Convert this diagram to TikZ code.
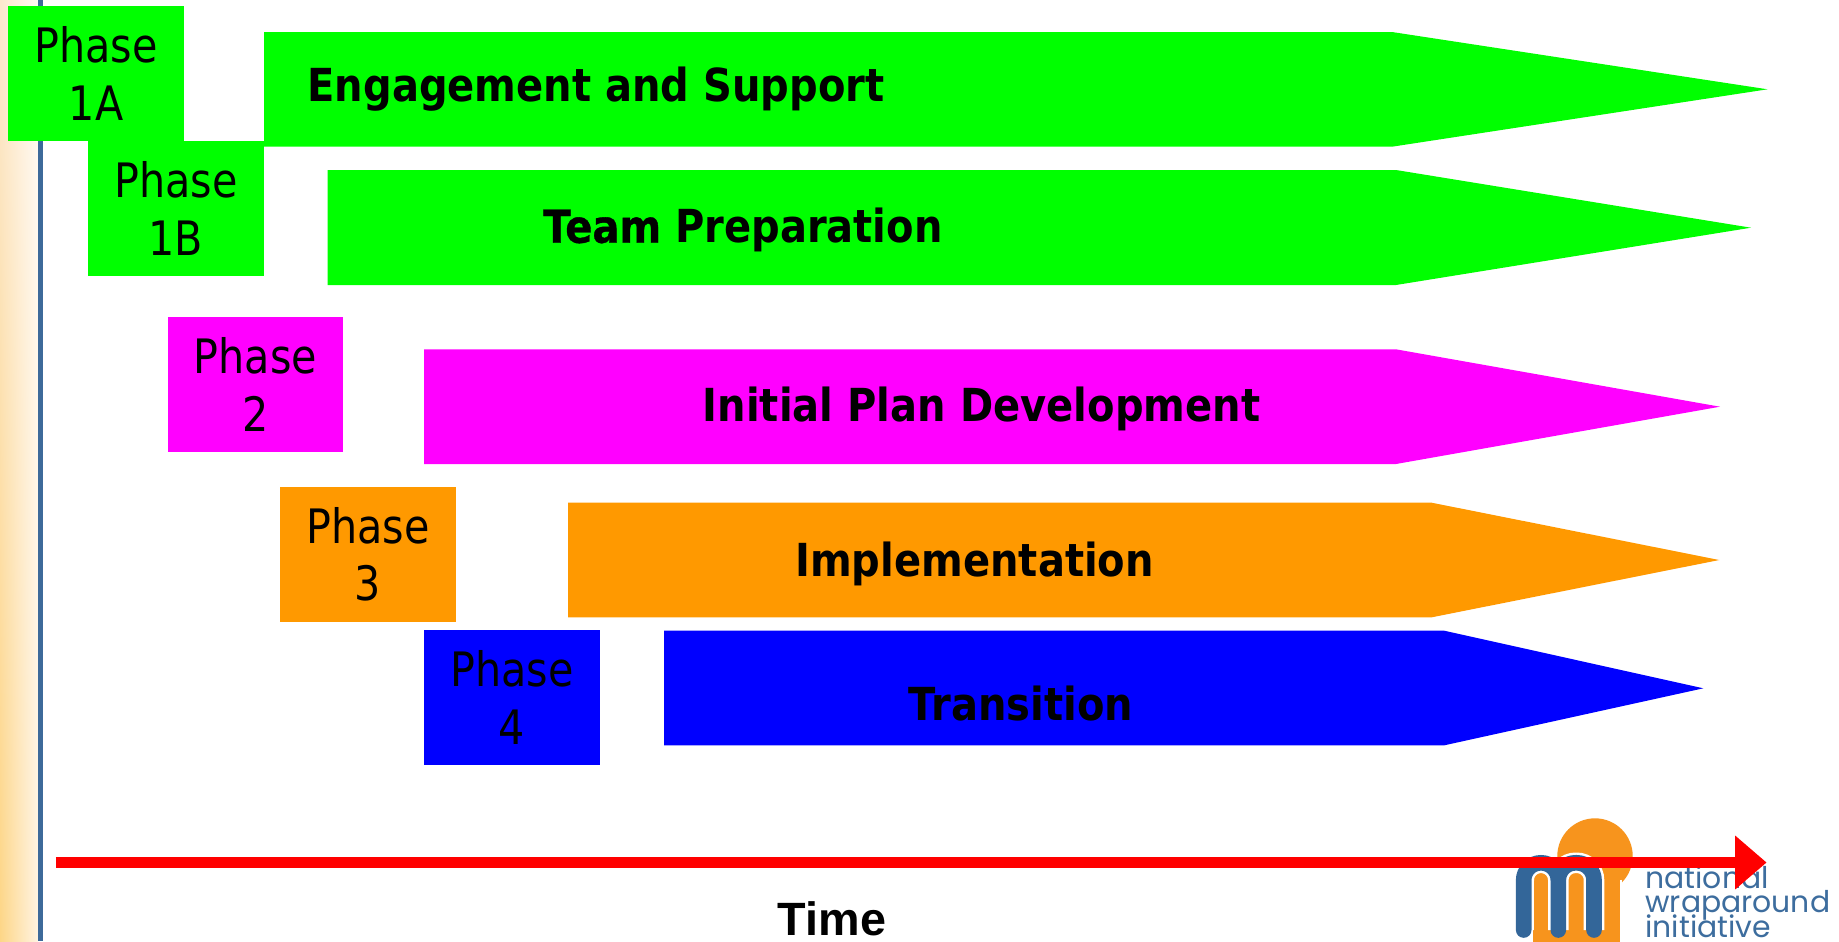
\documentclass[tikz,border=0pt]{standalone}
\usepackage{fontspec}
\setmainfont{DejaVu Sans}
\newfontfamily\phasefont[FakeStretch=0.87]{DejaVu Sans}
\newfontfamily\barfont[FakeStretch=0.88]{DejaVu Sans}
\newfontfamily\timefont{Liberation Sans}
\newfontfamily\logofont{Poppins}
\usetikzlibrary{arrows.meta,shadings}
\definecolor{pgreen}{RGB}{0,255,0}
\definecolor{pmag}{RGB}{255,0,255}
\definecolor{porange}{RGB}{255,153,0}
\definecolor{pblue}{RGB}{0,0,255}
\definecolor{stripline}{RGB}{61,106,154}
\definecolor{stripUL}{RGB}{252,232,205}
\definecolor{stripLL}{RGB}{253,214,135}
\definecolor{stripUR}{RGB}{255,250,244}
\definecolor{stripLR}{RGB}{255,243,225}
\definecolor{logoblue}{RGB}{51,102,153}
\definecolor{logoorange}{RGB}{247,148,29}
\definecolor{logotxt}{RGB}{61,109,158}
\begin{document}
\begin{tikzpicture}[x=0.02cm,y=-0.02cm,
  phasebox/.style={fill=#1, minimum width=3.52cm, minimum height=2.7cm, inner sep=0pt,
    align=center, font=\phasefont\fontsize{27}{32.7}\selectfont},
  barlabel/.style={anchor=base, inner sep=0pt, font=\barfont\bfseries\fontsize{25.9}{30}\selectfont},
  barshape/.style={fill=#1},
  logostroke/.style={line width=8.9pt, line cap=round, line join=round, draw=#1,
    preaction={draw=white, line width=11.7pt}},
  logotext/.style={anchor=base west, inner sep=0pt, text=logotxt, font=\logofont\fontsize{17}{17}\selectfont},
  timeline/.style={draw=red, line width=6pt, -{Triangle[length=17.9pt,width=29.5pt]}}]
\useasboundingbox (0,0) rectangle (1839,941);
\fill[white] (0,0) rectangle (1839,941);
% left strip
\shade[upper left=stripUL, upper right=stripUR, lower left=stripLL, lower right=stripLR] (0,0) rectangle (38,941);
\coordinate (vtop) at (40.5,0);
\coordinate (vbot) at (40.5,941);
\draw[stripline, line width=2.8pt] (vtop) -- (vbot);

% bars
\fill[barshape=pgreen] (264,32) -- (1392,32) -- (1767.5,89.3) -- (1392,146.7) -- (264,146.7) -- cycle;
\fill[barshape=pgreen] (327.5,170) -- (1396,170) -- (1751,227.7) -- (1396,285) -- (327.5,285) -- cycle;
\fill[barshape=pmag] (424,349.3) -- (1396,349.3) -- (1720,406.7) -- (1396,464) -- (424,464) -- cycle;
\fill[barshape=porange] (568,502.7) -- (1431.7,502.7) -- (1719.3,560) -- (1431.7,617.3) -- (568,617.3) -- cycle;
\fill[barshape=pblue] (664,630.7) -- (1444.3,630.7) -- (1703.3,688.3) -- (1444.3,745.3) -- (664,745.3) -- cycle;

\node[barlabel] (lab1a) at (596,101) {Engagement and Support};
\node[barlabel] (lab1b) at (743,242.7) {{\addfontfeature{FakeBold=0.8}Team} Preparation};
\node[barlabel] (lab2) at (981.5,421.7) {Initial Plan Development};
\node[barlabel] (lab3) at (974.6,576) {Implementation};
\node[barlabel] (lab4) at (1020.7,720) {Transition};

% phase boxes
\node[phasebox=pgreen] (p1a) at (96,73.5) {Phase\\1A};
\node[phasebox=pgreen] (p1b) at (176,208.5) {Phase\\1B};
\node[phasebox=pmag] (p2) at (255.5,384.5) {Phase\\2};
\node[phasebox=porange] (p3) at (368,554.5) {Phase\\3};
\node[phasebox=pblue] (p4) at (512,697.5) {Phase\\4};

% logo
\fill[logoorange] (1595,856) circle[radius=37.7];
\draw[logostroke=logoorange] (1540.7,879.5) -- (1540.7,950) (1576,879.5) -- (1576,950) (1611.7,879.5) -- (1611.7,950);
\fill[logoorange] (1533.3,925) rectangle (1620,960);
\draw[logostroke=logoblue, rounded corners=9.8pt]
  (1523.7,930) -- (1523.7,862.8) -- (1558.3,862.8) -- (1558.3,930)
  (1558.3,930) -- (1558.3,862.8) -- (1594,862.8) -- (1594,930);
\node[logotext] (logo1) at (1645,888.3) {national};
\node[logotext] (logo2) at (1645,912.7) {wraparound};
\node[logotext] (logo3) at (1645,937) {initiative};

% time axis
\coordinate (t0) at (55.8,862.5);
\coordinate (t1) at (1766.6,862.5);
\draw[timeline] (t0) -- (t1);
\node[anchor=base, inner sep=0pt, font=\timefont\bfseries\fontsize{26.6}{30}\selectfont] (time) at (832,935.4) {Time};
\end{tikzpicture}
\end{document}
